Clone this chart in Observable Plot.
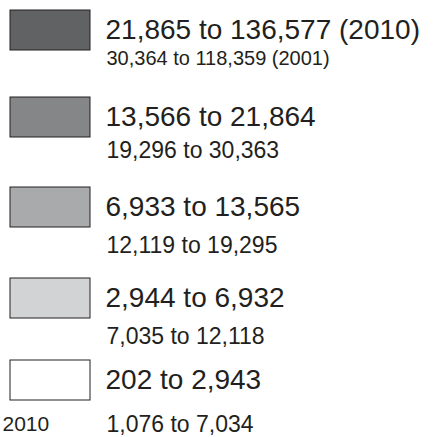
<!DOCTYPE html>
<html>
<head>
<meta charset="utf-8">
<script src="https://cdn.jsdelivr.net/npm/d3@7"></script>
<script src="https://cdn.jsdelivr.net/npm/@observablehq/plot@0.6"></script>
<style>
  html, body { margin: 0; padding: 0; background: #ffffff; }
  #chart svg { display: block; }
</style>
</head>
<body>
<div id="chart"></div>
<script>
// ---- Data ----
const labels2010 = [
  "21,865 to 136,577 (2010)",
  "13,566 to 21,864",
  "6,933 to 13,565",
  "2,944 to 6,932",
  "202 to 2,943"
];
const labels2001 = [
  "30,364 to 118,359 (2001)",
  "19,296 to 30,363",
  "12,119 to 19,295",
  "7,035 to 12,118",
  "1,076 to 7,034"
];
const swatchColors = ["#616264", "#858688", "#a9aaac", "#d2d3d5", "#ffffff"];
const croppedLabel = ["2010"];

// ---- Layout (line centres, in px) ----
const lineCenters = [30, 58, 117, 150, 207, 245, 298, 336, 380, 424];
const ink = "#231f20";
const font = "'Liberation Sans', Arial, Helvetica, sans-serif";

const rows = labels2010.map((big, i) => ({
  i, big, small: labels2001[i], fill: swatchColors[i]
}));

const chart = Plot.plot({
  width: 437,
  height: 437,
  margin: 0,
  x: { domain: [0, 437], range: [0, 437], axis: null },
  y: { type: "linear", domain: d3.range(lineCenters.length), range: lineCenters, axis: null },
  color: { type: "identity" },
  style: { background: "#ffffff", fontFamily: font },
  marks: [
    Plot.rect(rows, {
      x1: 10, x2: 90,
      y1: d => 2 * d.i, y2: d => 2 * d.i,
      insetTop: -20, insetBottom: -20,
      fill: "fill", stroke: ink, strokeWidth: 1
    }),
    Plot.text(rows, {
      x: 105, y: d => 2 * d.i, text: "big",
      textAnchor: "start", fontSize: 28, fill: ink, fontFamily: font
    }),
    Plot.text(rows, {
      x: 106, y: d => 2 * d.i + 1, text: "small",
      textAnchor: "start", fontSize: d => d.i === 0 ? 20 : 23, fill: ink, fontFamily: font
    }),
    Plot.text(croppedLabel, {
      x: 2, y: 9, text: d => d,
      textAnchor: "start", fontSize: 21, fill: ink, fontFamily: font
    })
  ]
});
document.getElementById("chart").appendChild(chart);
</script>
</body>
</html>
